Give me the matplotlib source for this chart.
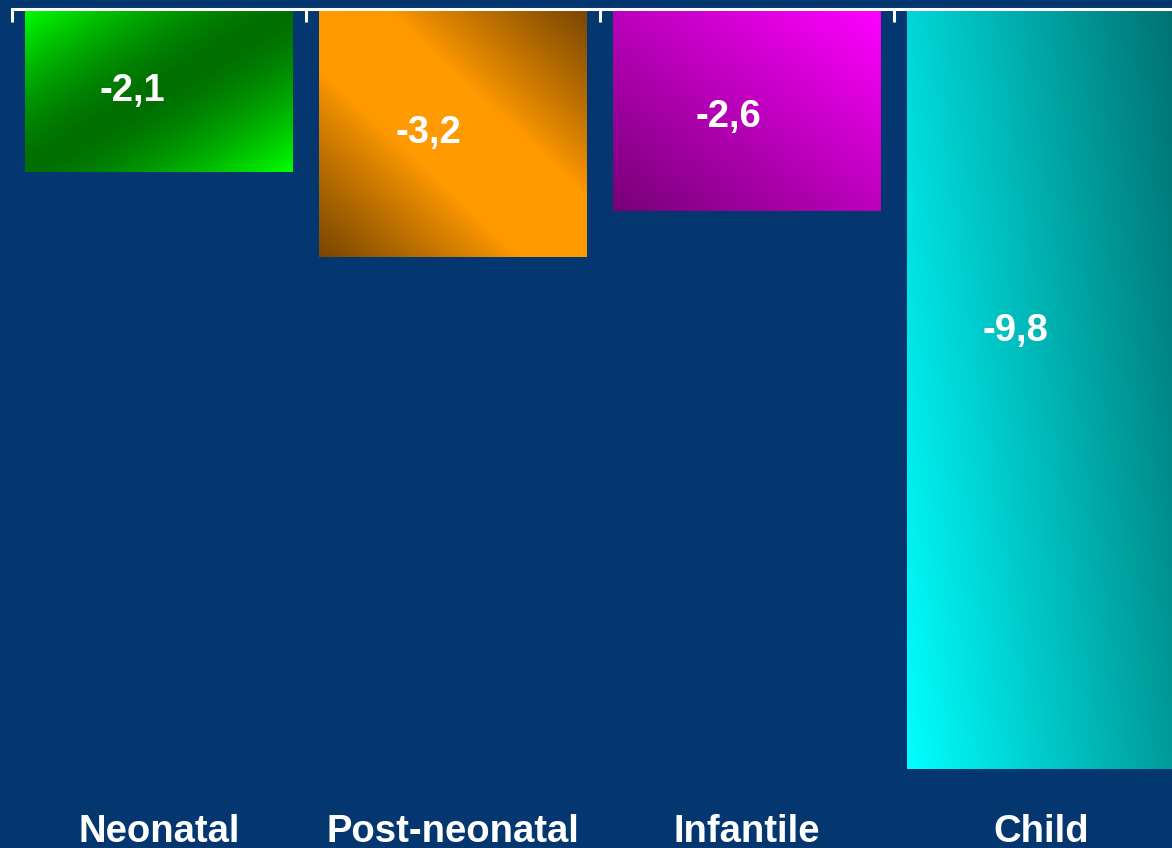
import numpy as np
import matplotlib
matplotlib.use("Agg")
import matplotlib.pyplot as plt
from matplotlib.colors import to_rgb
from matplotlib.transforms import blended_transform_factory

# data
categories = ["Neonatal", "Post-neonatal", "Infantile", "Child"]
values = [-2.1, -3.2, -2.6, -9.8]
value_labels = ["-2,1", "-3,2", "-2,6", "-9,8"]

# (bright, dark) colour pairs for the gradient fills
bright = ["#00ff00", "#ff9900", "#ff00ff", "#00ffff"]
dark = ["#006e00", "#784600", "#780078", "#007878"]
label_frac = [0.505, 0.5, 0.535, 0.424]
label_dx = [-0.09, -0.085, -0.065, -0.088]

BG = "#043770"


def shade(kind, u, v):
    # returns 0 = bright, 1 = dark
    if kind == 0:
        return 1 - np.clip(np.abs(u + v - 1), 0, 1) ** 1.5
    if kind == 1:
        return np.clip((np.abs(u - v) - 0.25) / 0.75, 0, 1) ** 0.9
    if kind == 2:
        return 1 - (u + (1 - v)) / 2
    return 0.75 * u + 0.3 * (1 - v)


fig = plt.figure(figsize=(11.72, 8.48), dpi=100)
fig.patch.set_facecolor(BG)

top = 1 - 9 / 848
h = 775.5 / 848
ax = fig.add_axes([12 / 1172, top - h, 1176 / 1172, h])
ax.set_facecolor(BG)
ax.set_xlim(-0.5, 3.5)
ax.set_ylim(-10, 0)

x = np.arange(len(categories))
bars = ax.bar(x, values, width=0.91, color="none", edgecolor="none")

n = 200
u, v = np.meshgrid(np.linspace(0, 1, n), np.linspace(0, 1, n))
for i, b in enumerate(bars):
    t = shade(i, u, v)[..., None]
    c1 = np.array(to_rgb(bright[i]))
    c2 = np.array(to_rgb(dark[i]))
    img = c1 * (1 - t) + c2 * t
    x0, w = b.get_x(), b.get_width()
    im = ax.imshow(img, extent=(x0, x0 + w, values[i], 0), origin="upper",
                   aspect="auto", interpolation="bilinear", zorder=2)
    im.set_clip_path(b)
    ax.text(x[i] + label_dx[i], values[i] * label_frac[i], value_labels[i],
            ha="center", va="center", color="white", fontsize=27.5,
            fontweight="bold", family="Liberation Sans", zorder=3)

for s in ["left", "right", "bottom"]:
    ax.spines[s].set_visible(False)
ax.spines["top"].set_color("white")
ax.spines["top"].set_linewidth(2.2)
ax.set_yticks([])
ax.set_xticks([])
ax.set_xticks(np.arange(-0.5, 3.6, 1), minor=True)
ax.xaxis.set_ticks_position("top")
ax.tick_params(axis="x", which="minor", direction="in", length=9,
               width=2.2, color="white", labeltop=False)

tr = blended_transform_factory(ax.transData, fig.transFigure)
for i, name in enumerate(categories):
    ax.text(x[i], 1 - 842 / 848, name, transform=tr, ha="center",
            va="baseline", color="white", fontsize=27.5, fontweight="bold",
            family="Liberation Sans", clip_on=False)

fig.savefig("out.png", dpi=100, facecolor=BG)
